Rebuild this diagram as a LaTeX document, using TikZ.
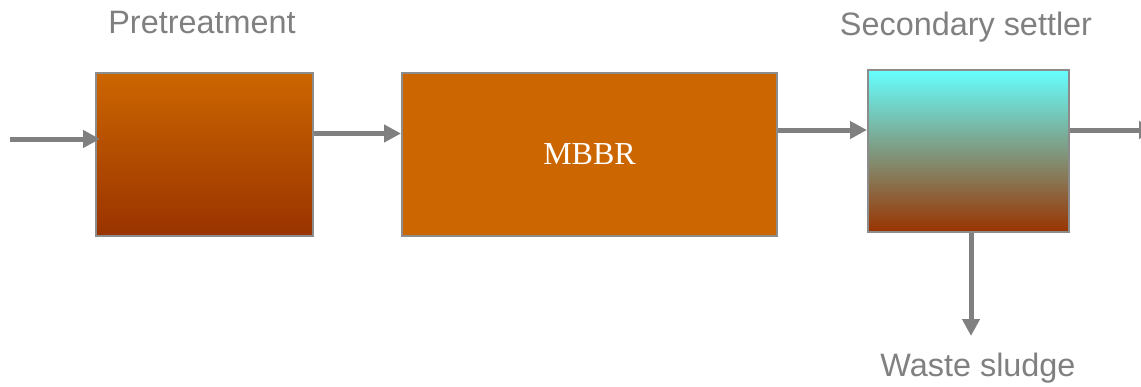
\documentclass[tikz,border=0pt]{standalone}
\usepackage{fontspec}
\setmainfont{Liberation Serif}
\newfontfamily\labelfont{Liberation Sans}
\usepackage{tikz}
\usetikzlibrary{arrows.meta}
\usetikzlibrary{positioning}
\tikzset{tank/.style={draw=tankline,line width=1pt,rectangle,inner sep=0pt}}
\tikzset{flow/.style={draw=flowgray,line width=2.5pt,-{Triangle[length=8.5pt,width=8.5pt]}}}
\tikzset{caption/.style={text=flowgray,font=\labelfont\fontsize{16.2}{19}\selectfont}}
\definecolor{rust1}{HTML}{CC6600}
\definecolor{rust2}{HTML}{993300}
\definecolor{aqua1}{HTML}{66FFFF}
\definecolor{flowgray}{HTML}{808080}
\definecolor{tankline}{HTML}{8C8C8C}

\begin{document}
\begin{tikzpicture}[x=0.5pt,y=-0.5pt]
            \useasboundingbox (0,0) rectangle (1141,386);
            \node[tank,top color=rust1,bottom color=rust2,minimum width=108.5pt,minimum height=81.5pt] 
                (pre) at (204.5,154.5) {};
            \node[tank,fill=rust1,minimum width=187.5pt,minimum height=81.5pt,text=white,font=\fontsize{16}{19}\selectfont] 
                (mbbr) at (589.5,154.5) {MBBR};
            \node[tank,top color=aqua1,bottom color=rust2,minimum width=100.5pt,minimum height=81pt] 
                (settler) at (968.5,151) {};
            \node[caption] (pre-lbl) at (202,23) {Pretreatment};
            \node[caption] (settler-lbl) at (966,27) {Secondary settler};
            \node[caption] (waste-lbl) at (978,368) {Waste sludge};
            \coordinate (feed) at (10,139);
            \coordinate (s-in) at ([yshift=10.5pt]settler.west);
            \coordinate (effluent) at (1156,130);
            \coordinate (waste) at (971,336);
            % flows
            \draw[flow] (feed) -- ([xshift=2.5pt]feed -| pre.west);
            \draw[flow] ([yshift=10.5pt]pre.east) -- ([yshift=10.5pt]mbbr.west);
            \draw[flow] (mbbr.east |- s-in) -- (s-in);
            \draw[flow] (settler.east |- effluent) -- (effluent);
            \draw[flow] (settler.south -| waste) -- (waste);
            \end{tikzpicture}
\end{document}
